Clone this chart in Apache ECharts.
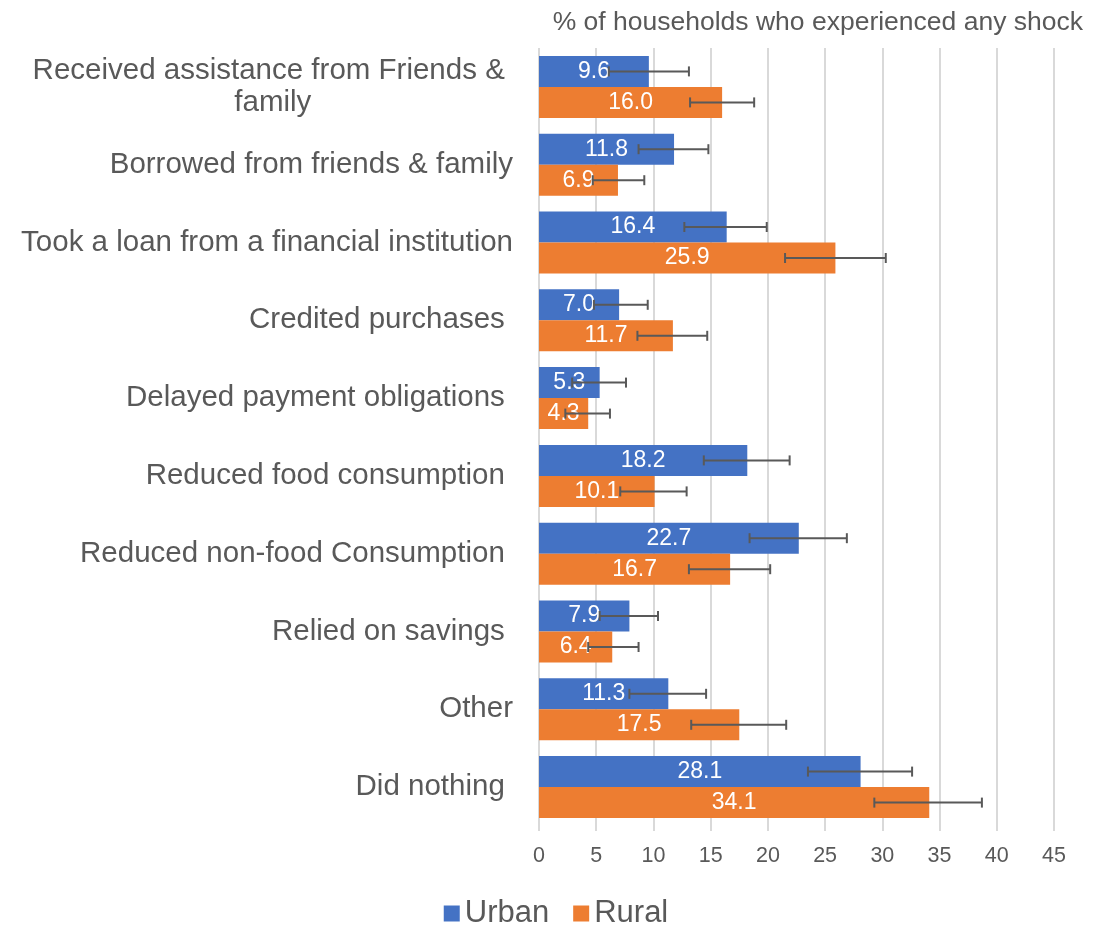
<!DOCTYPE html>
<html>
<head>
<meta charset="utf-8">
<script src="https://cdn.jsdelivr.net/npm/echarts@6/dist/echarts.min.js"></script>
<style>
html,body{margin:0;padding:0;background:#fff;}
#chart{width:1112px;height:925px;}
</style>
</head>
<body>
<div id="chart"></div>
<script>
var categories = [
  "Received assistance from Friends & family",
  "Borrowed from friends & family",
  "Took a loan from a financial institution",
  "Credited purchases ",
  "Delayed payment obligations ",
  "Reduced food consumption ",
  "Reduced non-food Consumption ",
  "Relied on savings ",
  "Other",
  "Did nothing "
];
var urban = [9.6, 11.8, 16.4, 7.0, 5.3, 18.2, 22.7, 7.9, 11.3, 28.1];
var rural = [16.0, 6.9, 25.9, 11.7, 4.3, 10.1, 16.7, 6.4, 17.5, 34.1];
var urbanLow  = [6.1, 8.7, 12.7, 4.8, 2.9, 14.4, 18.4, 5.3, 7.9, 23.5];
var urbanHigh = [13.1, 14.8, 19.9, 9.5, 7.6, 21.9, 26.9, 10.4, 14.6, 32.6];
var ruralLow  = [13.2, 4.7, 21.5, 8.6, 2.3, 7.1, 13.1, 4.3, 13.3, 29.3];
var ruralHigh = [18.8, 9.2, 30.3, 14.7, 6.2, 12.9, 20.2, 8.7, 21.6, 38.7];
var xTicks = { min: 0, max: 45, interval: 5 };

var FONT = '"Liberation Sans", Arial, sans-serif';
var GREY = '#595959';
var BAR_W = 31;

function errSeries(name, low, high, sign) {
  return {
    type: 'custom',
    name: name,
    z: 10,
    silent: true,
    renderItem: function (params, api) {
      var i = api.value(0);
      var a = api.coord([api.value(1), i]);
      var b = api.coord([api.value(2), i]);
      var y = a[1] + sign * BAR_W / 2;
      var cap = 5;
      var st = { stroke: GREY, lineWidth: 2 };
      return {
        type: 'group',
        children: [
          { type: 'line', shape: { x1: a[0], y1: y, x2: b[0], y2: y }, style: st },
          { type: 'line', shape: { x1: a[0], y1: y - cap, x2: a[0], y2: y + cap }, style: st },
          { type: 'line', shape: { x1: b[0], y1: y - cap, x2: b[0], y2: y + cap }, style: st }
        ]
      };
    },
    encode: { x: [1, 2], y: 0 },
    data: low.map(function (l, i) { return [i, l, high[i]]; })
  };
}

var labelOpt = {
  show: true,
  position: 'inside',
  color: '#fff',
  fontSize: 23,
  fontFamily: FONT,
  formatter: function (p) { return p.value.toFixed(1); }
};

var chart = echarts.init(document.getElementById('chart'), null, { renderer: 'canvas' });
chart.setOption({
  animation: false,
  backgroundColor: '#fff',
  title: {
    text: '% of households who experienced any shock',
    right: 24,
    top: 4,
    textStyle: { color: GREY, fontSize: 26.5, fontWeight: 'normal', fontFamily: FONT }
  },
  legend: {
    data: ['Urban', 'Rural'],
    top: 893,
    left: 'center',
    icon: 'rect',
    itemWidth: 16,
    itemHeight: 16,
    itemGap: 24,
    textStyle: { color: GREY, fontSize: 31, fontFamily: FONT }
  },
  grid: { left: 539, right: 58, top: 48, bottom: 99, containLabel: false },
  xAxis: {
    type: 'value',
    min: xTicks.min,
    max: xTicks.max,
    interval: xTicks.interval,
    axisLine: { show: false },
    axisTick: { show: true, length: 5, lineStyle: { color: '#d9d9d9', width: 2 } },
    splitLine: { show: true, lineStyle: { color: '#d9d9d9', width: 2 } },
    axisLabel: { color: GREY, fontSize: 21.5, fontFamily: FONT, margin: 19 }
  },
  yAxis: {
    type: 'category',
    inverse: true,
    data: categories,
    axisLine: { show: false },
    axisTick: { show: false },
    axisLabel: {
      color: GREY,
      fontSize: 29.5,
      fontFamily: FONT,
      margin: 26,
      lineHeight: 32,
      formatter: function (v) {
        if (v.indexOf('Received assistance') === 0) {
          return '{c|Received assistance from Friends & }\n{c|family}';
        }
        return v;
      },
      rich: {
        c: { align: 'center', color: GREY, fontSize: 29.5, fontFamily: FONT, lineHeight: 32 }
      }
    }
  },
  series: [
    {
      name: 'Urban', type: 'bar', data: urban, barWidth: BAR_W, barGap: '0%',
      itemStyle: { color: '#4472C4' }, label: labelOpt
    },
    {
      name: 'Rural', type: 'bar', data: rural, barWidth: BAR_W, barGap: '0%',
      itemStyle: { color: '#ED7D31' }, label: labelOpt
    },
    errSeries('Urban err', urbanLow, urbanHigh, -1),
    errSeries('Rural err', ruralLow, ruralHigh, 1)
  ]
});
</script>
</body>
</html>
